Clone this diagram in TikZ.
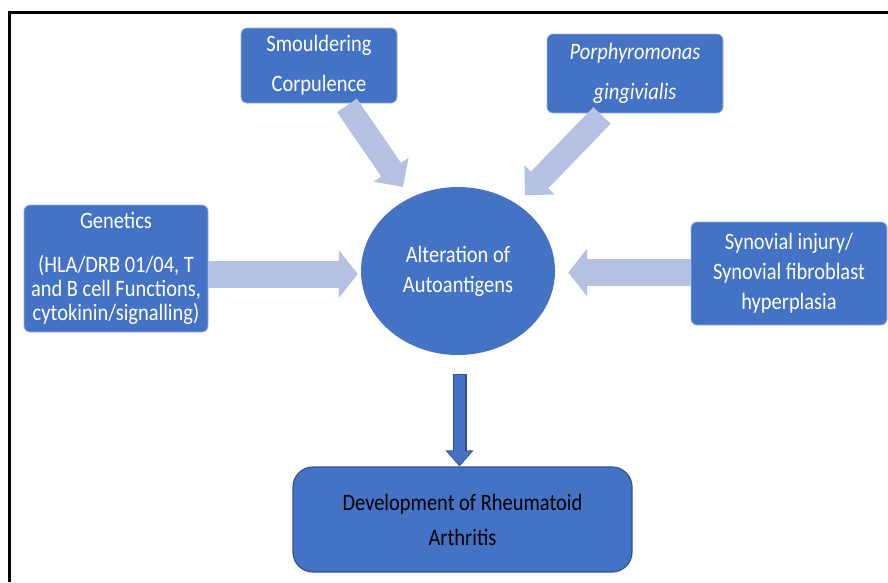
\documentclass[tikz,border=0pt]{standalone}
\usepackage{fontspec}
\setmainfont{Carlito}[FakeStretch=0.87]
\usetikzlibrary{arrows.meta,shapes.geometric}
\definecolor{boxblue}{HTML}{4472C4}
\definecolor{boxedge}{HTML}{2F528F}
\definecolor{paleblue}{HTML}{B4C1E1}
\begin{document}
\begin{tikzpicture}[x=1pt,y=-1pt,
    cause/.style ={rectangle, rounded corners=6pt, fill=boxblue, draw=boxblue!55!white, line width=0.8pt,
      text=white, align=center, inner sep=0pt, font=\fontsize{23.5}{30}\selectfont},
    centre/.style ={ellipse, fill=boxblue, text=white, align=center, inner sep=0pt,
      font=\fontsize{23.5}{30}\selectfont},
    result/.style ={rectangle, rounded corners=20pt, fill=boxblue, draw=boxedge, line width=1.2pt,
      align=center, inner sep=0pt, font=\fontsize{23.5}{35}\selectfont},
    feed/.style ={paleblue, line width=27pt, -{Triangle[length=19pt,width=47pt]}},
    slant/.style ={paleblue, line width=24pt, -{Triangle[length=21pt,width=41pt]}}]
   \useasboundingbox (0,0) rectangle (888,582);
   \draw[line width=3pt] (9.5,582) -- (9.5,12.5) -- (888,12.5);

   \node[cause, minimum width=156pt, minimum height=75pt, font=\fontsize{23.5}{40}\selectfont]
      (smould) at (319,65.5) {Smouldering\\Corpulence};
   \node[cause, minimum width=176pt, minimum height=79pt, font=\fontsize{23.5}{40}\selectfont\itshape]
      (porph) at (635,73.5) {Porphyromonas\\gingivialis};
   \node[cause, minimum width=184pt, minimum height=127pt, font=\fontsize{23.5}{24}\selectfont]
      (gen) at (116,268.5) {Genetics\\[20pt](HLA/DRB 01/04, T\\and B cell Functions,\\cytokinin/signalling)};
   \node[cause, minimum width=196pt, minimum height=103pt]
      (syn) at (789,273.5) {Synovial injury/\\Synovial fibroblast\\hyperplasia};
   \node[centre, minimum width=194pt, minimum height=168pt]
      (alter) at (458,271) {Alteration of\\Autoantigens};
   \node[result, minimum width=339pt, minimum height=105pt]
      (dev) at (462.5,519.5) {Development of Rheumatoid\\Arthritis};

   \draw[slant] ([shift={(28pt,-2pt)}]smould.south) -- ([shift={(-55pt,84pt)}]alter.center);
   \draw[slant] ([shift={(-33pt,-2pt)}]porph.south) -- ([shift={(67pt,76pt)}]alter.center);
   \draw[feed, shorten >=3pt] ([yshift=-5.5pt]gen.east) -- ([yshift=-3pt]alter.west);
   \draw[feed, shorten >=13pt] ([yshift=1pt]syn.west) -- ([yshift=-1.5pt]alter.east);

   \draw[boxedge, line width=14pt, -{Triangle[length=16pt,width=27pt]}]
      ([shift={(1.5pt,-19pt)}]alter.south) -- ([xshift=-3pt]dev.north);
   \draw[boxblue, line width=11.5pt, shorten <=1pt, shorten >=1.5pt, -{Triangle[length=13.5pt,width=23.5pt]}]
      ([shift={(1.5pt,-19pt)}]alter.south) -- ([xshift=-3pt]dev.north);
 \end{tikzpicture}
\end{document}
